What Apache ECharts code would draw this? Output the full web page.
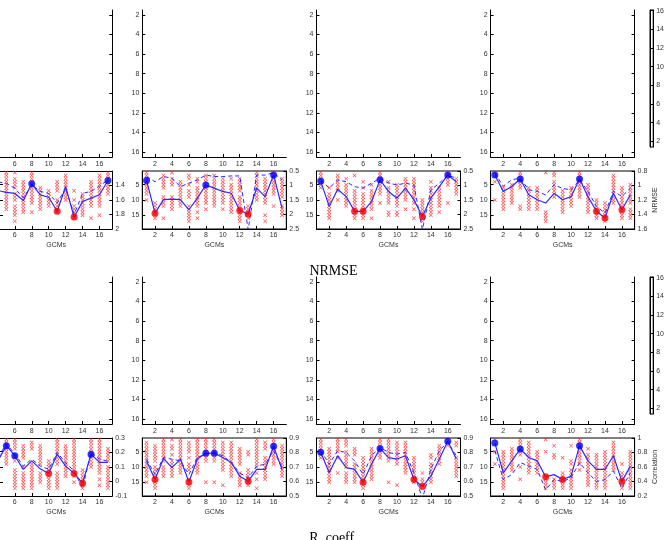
<!DOCTYPE html>
<html>
<head>
<meta charset="utf-8">
<script src="https://cdn.jsdelivr.net/npm/echarts@6/dist/echarts.min.js"></script>
<style>
  html, body { margin: 0; padding: 0; background: #fff; }
  #main { width: 667px; height: 540px; }
</style>
</head>
<body>
<div id="main"></div>
<script>
// tick labels
const gridTicks = [2, 4, 6, 8, 10, 12, 14, 16];
const rankTicks = [5, 10, 15];

// ---------- NRMSE row ----------
const nrmseRightTicks = [[1.4, 1.6, 1.8, 2], [0.5, 1, 1.5, 2, 2.5], [0.5, 1, 1.5, 2, 2.5], [0.8, 1, 1.2, 1.4, 1.6]];
const nrmseRange = [[1.2, 2], [0.5, 2.5], [0.5, 2.5], [0.8, 1.6]];
// mean rank per GCM (solid line, left axis)
const nrmseRank1 = [6, 8, 7, 6.9, 7.5, 7.8, 10.2, 4.7, 8.3, 9.1, 13.7, 5.6, 15.6, 10.5, 9.4, 8.3, 3.6];
const nrmseRank2 = [3.6, 14.3, 9.9, 9.7, 9.9, 13.2, 9.4, 5.1, 6.1, 7.2, 7.8, 13.4, 14.6, 6.1, 8.9, 1.8, 12.7];
const nrmseRank3 = [3.8, 12.1, 6.5, 8.9, 13.7, 13.7, 10.5, 3.4, 7.2, 9.4, 6.1, 9.9, 15.4, 9.4, 5.6, 1.8, 4.0];
const nrmseRank4 = [1.8, 7.2, 5.6, 3.1, 8.3, 9.9, 11.0, 7.8, 9.9, 8.9, 3.1, 8.9, 13.7, 15.9, 7.8, 13.2, 8.3];
// NRMSE value per GCM (dashed line, right axis)
const nrmseValue1 = [1.36, 1.42, 1.40, 1.35, 1.37, 1.44, 1.57, 1.39, 1.48, 1.51, 1.64, 1.44, 1.80, 1.51, 1.48, 1.41, 1.32];
const nrmseValue2 = [0.69, 0.87, 0.69, 0.75, 1.04, 0.92, 0.81, 0.64, 0.69, 0.69, 0.67, 0.67, 2.52, 0.64, 0.64, 0.56, 0.81];
const nrmseValue3 = [0.81, 1.09, 0.81, 0.87, 1.04, 1.09, 0.92, 0.75, 0.92, 0.98, 0.92, 0.98, 2.52, 1.15, 0.92, 0.64, 0.75];
const nrmseValue4 = [0.83, 1.01, 0.92, 0.90, 1.06, 1.08, 1.13, 0.99, 1.04, 1.06, 0.92, 1.08, 1.29, 1.38, 1.08, 1.15, 1.04];
// individual ranks per GCM (red crosses)
const nrmseCross1 = [[], [], [], [2, 4, 6, 8, 10, 12], [1, 2, 3, 4, 5, 6, 7, 8, 9, 10, 11, 12, 13],
  [1, 3, 4, 5, 6, 8, 9, 10, 12, 13, 14, 15, 17], [4, 5, 6, 7, 8, 9, 10, 11, 12, 13, 14], [1, 2, 3, 4, 5, 6, 7, 8, 9, 10, 11, 14],
  [6, 7, 8, 9, 10, 11, 12, 13], [7, 8, 9, 10, 11, 12], [4, 5, 6, 7, 10, 11, 12, 13, 14], [2, 3, 4, 5, 6, 7, 8, 9, 10],
  [7, 10, 12, 13, 14, 15, 16], [8, 9, 10, 11, 12, 13, 14, 15], [4, 5, 6, 7, 8, 9, 10, 11, 12, 16],
  [2, 3, 4, 5, 6, 7, 8, 9, 10, 11, 12, 15], [1, 2, 3, 4, 5, 6, 7, 8]];
const nrmseCross2 = [[1, 2, 3, 4, 5, 6, 7, 8, 10], [11, 12, 13, 14, 15, 16], [2, 3, 4, 5, 6, 9, 10, 11, 12, 16],
  [1, 3, 4, 5, 9, 10, 11, 12, 13], [4, 5, 6, 7, 8, 9, 10, 11, 12], [2, 3, 5, 7, 8, 9, 12, 13, 14, 15, 16, 17],
  [3, 4, 6, 7, 8, 9, 10, 11, 12, 14, 16], [2, 3, 4, 5, 6, 7, 8, 9, 10, 11, 13], [2, 3, 4, 5, 6, 7, 8, 9, 10, 11, 12],
  [3, 4, 5, 6, 7, 8, 9, 10, 11, 13], [3, 5, 6, 7, 8, 9, 10, 11, 12, 13, 14], [3, 4, 5, 6, 7, 9, 10, 11, 12, 13, 14, 15, 16, 17],
  [12, 13, 14, 15, 16], [1, 2, 3, 4, 5, 6, 7, 8, 9, 10], [3, 4, 5, 6, 7, 8, 9, 10, 11, 15, 17],
  [1, 2, 3, 4, 5, 6, 7, 8, 12], [3, 4, 5, 6, 7, 8, 9, 12, 13, 14, 15]];
const nrmseCross3 = [[1, 2, 3, 4, 5, 6], [6, 8, 9, 10, 11, 12, 13, 14, 15, 16], [2, 3, 4, 5, 6, 7, 10],
  [3, 5, 6, 7, 8, 9, 10, 11, 12], [2, 7, 8, 9, 10, 11, 12, 13, 14, 15, 16], [4, 6, 8, 9, 10, 11, 12, 13, 14, 15, 16],
  [5, 7, 8, 9, 10, 11, 12, 13, 16], [1, 2, 3, 4, 5, 6, 7, 8, 11], [4, 6, 7, 8, 9, 10, 11, 14, 15],
  [5, 6, 7, 8, 9, 10, 11, 12, 14, 15], [3, 4, 5, 6, 7, 8, 9, 10, 13], [3, 4, 5, 6, 7, 8, 9, 10, 11, 13, 16],
  [10, 11, 12, 13, 14, 15, 16, 17], [4, 6, 7, 8, 9, 10, 11, 12, 13, 14, 15], [6, 7, 8, 9, 10, 11, 12, 14],
  [1, 2, 3, 4, 5, 11], [3, 4, 5, 6, 7, 8]];
const nrmseCross4 = [[1, 4, 10], [6, 7, 8, 9, 10, 11, 12, 13], [5, 6, 7, 8, 9, 10, 11], [1, 2, 3, 4, 5, 6, 12, 13],
  [6, 7, 8, 9, 10, 11, 12, 13], [6, 7, 8, 9, 10, 11, 12, 13], [1, 14, 15, 16, 17], [1, 2, 4, 5, 6, 7, 8, 9],
  [7, 8, 9, 10, 11, 12, 13, 14], [6, 7, 8, 9, 10, 11, 12], [1, 2, 3, 4, 5, 6, 7, 8, 9], [5, 6, 7, 8, 9, 10, 11, 12, 13, 14],
  [10, 11, 12, 13, 14, 15, 16], [11, 12, 13, 14, 15, 16, 17], [2, 3, 4, 5, 6, 7, 8, 9, 10, 11],
  [6, 7, 8, 9, 10, 11, 12, 13, 14, 15, 16], [5, 6, 7, 8, 9, 10, 11, 13, 14, 15, 16]];
const nrmseBest = [[8, 17], [1, 8, 16], [1, 8, 16], [1, 4, 11]];
const nrmseWorst = [[11, 13], [2, 12, 13], [5, 6, 13], [13, 14, 16]];

// ---------- Correlation row ----------
const corrRightTicks = [[-0.1, 0, 0.1, 0.2, 0.3], [0.5, 0.6, 0.7, 0.8, 0.9], [0.5, 0.6, 0.7, 0.8, 0.9], [0.2, 0.4, 0.6, 0.8, 1]];
const corrRange = [[-0.1, 0.3], [0.5, 0.9], [0.5, 0.9], [0.2, 1]];
const corrRank1 = [8, 10, 9, 8.0, 3.0, 6.3, 10.8, 8.0, 10.6, 12.1, 5.8, 9.7, 12.1, 15.3, 5.8, 8.5, 8.5];
const corrRank2 = [8.0, 14.1, 7.2, 10.2, 7.4, 14.9, 7.4, 5.5, 5.5, 6.9, 8.5, 13.0, 14.7, 10.8, 10.8, 3.2, 10.8];
const corrRank3 = [5.2, 11.9, 6.3, 10.2, 10.8, 15.0, 9.1, 3.9, 6.9, 7.4, 6.3, 14.1, 16.4, 13.0, 7.4, 1.6, 7.4];
const corrRank4 = [2.1, 11.9, 8.0, 4.1, 6.9, 8.0, 13.2, 12.5, 14.1, 13.0, 3.0, 8.0, 10.8, 10.8, 6.3, 14.7, 9.7];
const corrValue1 = [0.15, 0.12, 0.14, 0.166, 0.26, 0.19, 0.107, 0.154, 0.107, 0.084, 0.20, 0.13, 0.072, -0.046, 0.20, 0.154, 0.14];
const corrValue2 = [0.754, 0.648, 0.766, 0.754, 0.742, 0.648, 0.766, 0.789, 0.80, 0.778, 0.73, 0.66, 0.625, 0.707, 0.719, 0.813, 0.695];
const corrValue3 = [0.813, 0.719, 0.813, 0.80, 0.742, 0.648, 0.778, 0.836, 0.80, 0.789, 0.80, 0.66, 0.483, 0.684, 0.813, 0.872, 0.778];
const corrValue4 = [0.826, 0.426, 0.496, 0.661, 0.614, 0.567, 0.285, 0.426, 0.40, 0.45, 0.661, 0.52, 0.40, 0.426, 0.544, 0.308, 0.52];
const corrCross1 = [[], [], [], [3, 6, 9, 12], [1, 2, 3, 4, 5, 6, 7, 8, 9],
  [1, 2, 3, 4, 7, 8, 11, 12, 13, 14, 15, 16, 17], [3, 4, 5, 6, 7, 10, 12, 13, 14, 15, 16, 17],
  [2, 3, 4, 9, 10, 11, 12, 13, 14, 15, 16, 17], [3, 4, 5, 6, 7, 8, 9, 12, 13, 14, 15], [8, 9, 10, 11, 12, 13, 14, 15, 16, 17],
  [1, 2, 3, 4, 5, 6, 7, 8, 9, 12, 13, 14, 15, 16, 17], [3, 4, 5, 6, 7, 8, 9, 10, 11, 12, 13],
  [1, 2, 3, 4, 5, 6, 7, 8, 9, 10, 11, 12, 13, 15], [11, 12, 13, 14, 15, 16, 17], [1, 2, 3, 4, 5, 6, 7, 8, 9, 10],
  [1, 2, 3, 4, 5, 6, 7, 8, 9, 10, 11, 12, 14, 16], [4, 5, 6, 7, 8, 10, 11, 12, 13, 14, 15, 16, 17]];
const corrCross2 = [[2, 3, 4, 5, 6, 7, 8, 9, 10, 11, 12, 13, 15], [3, 4, 5, 6, 7, 8, 10, 11, 12, 13, 14, 15, 16, 17],
  [1, 2, 3, 4, 5, 6, 7, 8, 10, 11, 12, 13], [1, 3, 4, 6, 8, 9, 10, 11, 12, 13], [1, 2, 3, 4, 5, 6, 7, 8, 9, 10, 11, 12],
  [2, 3, 4, 5, 7, 9, 10, 11, 14, 15, 16, 17], [1, 2, 3, 4, 5, 6, 7, 8, 9, 10, 11, 12], [1, 2, 3, 4, 5, 6, 7, 8, 15],
  [1, 2, 3, 4, 5, 6, 7, 8, 15], [2, 3, 4, 5, 6, 7, 8, 9, 10, 11, 16], [2, 3, 4, 5, 6, 7, 8, 9, 10, 11, 12, 13],
  [4, 5, 6, 7, 8, 9, 12, 13, 14, 15, 16], [5, 6, 11, 12, 13, 14, 15, 16], [1, 2, 3, 4, 5, 6, 7, 8, 9, 10, 12, 14, 17],
  [2, 3, 4, 7, 8, 9, 10, 11, 12, 13, 14], [1, 2, 3, 4, 5, 6, 7, 8, 9], [3, 4, 5, 6, 7, 8, 9, 10, 11, 12, 13]];
const corrCross3 = [[1, 2, 3, 4, 5, 6, 7], [4, 5, 6, 7, 8, 9, 10, 11, 12, 13, 14, 15], [1, 2, 3, 4, 5, 7, 12],
  [1, 2, 3, 5, 6, 7, 8, 9, 10, 12, 13, 14, 15], [4, 5, 6, 9, 10, 11, 12, 13, 14, 15], [7, 8, 9, 10, 11, 12, 13, 14, 15, 16, 17],
  [4, 5, 6, 7, 8, 9, 10, 11, 12, 13, 14], [1, 2, 3, 4, 5, 6, 7], [1, 2, 3, 4, 5, 6, 7, 8, 15], [2, 3, 4, 5, 6, 7, 8, 9, 16],
  [2, 3, 4, 5, 6, 7, 8, 9, 10, 11, 12], [7, 8, 9, 10, 11, 12, 13, 14, 15], [12, 14, 15, 16],
  [6, 7, 9, 10, 11, 12, 13, 14, 15], [3, 4, 5, 6, 7, 8, 9], [1, 2, 3], [2, 3, 7, 8, 9, 10, 11, 12, 13]];
const corrCross4 = [[1, 5, 9], [5, 6, 7, 8, 9, 10, 11, 12, 13, 14, 15, 16, 17], [4, 5, 6, 7, 8, 9, 10, 11],
  [1, 2, 3, 4, 5, 6, 10, 14], [2, 3, 4, 5, 6, 7, 8, 9, 10, 11, 12], [5, 6, 7, 8, 9, 10, 11, 12], [1, 5, 13, 14, 15, 16, 17],
  [3, 6, 7, 14, 15, 16, 17], [7, 12, 13, 14, 15, 16, 17], [3, 8, 9, 11, 12, 13, 14, 15, 16, 17],
  [1, 2, 3, 4, 5, 6, 7, 8, 9, 11], [4, 6, 7, 8, 9, 10, 11, 12, 13, 14, 15, 16], [6, 7, 8, 9, 10, 11, 12, 13, 14, 15, 16, 17],
  [5, 6, 7, 8, 9, 10, 11, 12, 13, 14, 15, 16, 17], [2, 3, 4, 5, 6, 7, 8, 9, 10, 11], [9, 12, 13, 14, 15, 16, 17],
  [5, 6, 7, 8, 9, 10, 11, 12, 13, 14, 15, 16, 17]];
const corrBest = [[5, 6, 15], [8, 9, 16], [1, 8, 16], [1, 4, 11]];
const corrWorst = [[10, 13, 14], [2, 6, 13], [6, 12, 13], [7, 9, 16]];

const rows = [
  { title: 'NRMSE', titleTop: 259, bigTop: 10, smallTop: 171, cbTop: 10, inv: true, label: 'NRMSE',
    ticks: nrmseRightTicks, range: nrmseRange,
    rank: [nrmseRank1, nrmseRank2, nrmseRank3, nrmseRank4],
    value: [nrmseValue1, nrmseValue2, nrmseValue3, nrmseValue4],
    cross: [nrmseCross1, nrmseCross2, nrmseCross3, nrmseCross4],
    best: nrmseBest, worst: nrmseWorst },
  { title: 'R_coeff.', titleTop: 526, bigTop: 277, smallTop: 438, cbTop: 277, inv: false, label: 'Correlation',
    ticks: corrRightTicks, range: corrRange,
    rank: [corrRank1, corrRank2, corrRank3, corrRank4],
    value: [corrValue1, corrValue2, corrValue3, corrValue4],
    cross: [corrCross1, corrCross2, corrCross3, corrCross4],
    best: corrBest, worst: corrWorst }
];

// first column is cut by the left page edge: it starts at x = 0 and shows GCMs from ~4.25
const colLeft = [0, 142.3, 316.5, 490.6];
const colWidth = [112.2, 144, 144, 144];
const colMin = [4.25, 0.5, 0.5, 0.5];
const crossSymbol = 'path://M0,1.2L1.2,0L5,3.8L8.8,0L10,1.2L6.2,5L10,8.8L8.8,10L5,6.2L1.2,10L0,8.8L3.8,5Z';
const tickFont = { fontFamily: 'Liberation Sans, Arial, sans-serif', fontSize: 7, color: '#333' };

const grids = [], xAxes = [], yAxes = [], series = [];

function makeAxis(g, min, max, ticks, o) {
  return {
    gridIndex: g, type: 'value', min: min, max: max, position: o.pos, inverse: !!o.inv,
    show: o.show !== false,
    splitLine: { show: false },
    axisLine: { show: o.line !== false, onZero: false, lineStyle: { color: '#000', width: 1 } },
    axisTick: { show: o.ticks !== false, inside: true, length: 3, customValues: ticks, lineStyle: { color: '#000', width: 1 } },
    axisLabel: Object.assign({ show: o.labels !== false, customValues: ticks, margin: o.margin || 3 }, tickFont),
    name: o.name || '', nameLocation: 'middle', nameGap: o.nameGap || 12, nameRotate: o.nameRotate,
    nameTextStyle: Object.assign({}, tickFont)
  };
}

rows.forEach(function (row) {
  for (let c = 0; c < 4; c++) {
    // big (empty) panel
    let g = grids.length;
    grids.push({ left: colLeft[c], top: row.bigTop, width: colWidth[c], height: 147, show: false });
    xAxes.push(makeAxis(g, colMin[c], 17.5, gridTicks, { pos: 'bottom', margin: 4 }));
    let xi = xAxes.length - 1;
    if (c === 0) {
      yAxes.push(makeAxis(g, 1.5, 16.5, gridTicks, { pos: 'right', inv: true, labels: false }));
    } else {
      yAxes.push(makeAxis(g, 1.5, 16.5, gridTicks, { pos: 'left', inv: true }));
    }
    let yi = yAxes.length - 1;
    if (c === 3) {
      yAxes.push(makeAxis(g, 1.5, 16.5, gridTicks, { pos: 'right', inv: true, labels: false }));
    }
    series.push({ type: 'scatter', xAxisIndex: xi, yAxisIndex: yi, data: [] });

    // small ranking panel
    g = grids.length;
    grids.push({ left: colLeft[c], top: row.smallTop, width: colWidth[c], height: 58, show: c > 0,
      borderColor: '#000', borderWidth: 1 });
    xAxes.push(makeAxis(g, colMin[c], 17.5, gridTicks, { pos: 'bottom', name: 'GCMs', nameGap: 13 }));
    xi = xAxes.length - 1;
    if (c === 0) {
      // top edge of the cut panel
      xAxes.push(makeAxis(g, colMin[c], 17.5, gridTicks, { pos: 'top', labels: false, ticks: false }));
    }
    yAxes.push(makeAxis(g, 0.5, 19.5, rankTicks, { pos: 'left', inv: true, labels: c > 0, line: c > 0 }));
    const yl = yAxes.length - 1;
    yAxes.push(makeAxis(g, row.range[c][0], row.range[c][1], row.ticks[c],
      { pos: 'right', inv: row.inv, name: c === 3 ? row.label : '', nameRotate: 90, nameGap: 17 }));
    const yr = yAxes.length - 1;

    const pts = [];
    row.cross[c].forEach(function (ranks, i) {
      ranks.forEach(function (r) { pts.push([i + 1, r]); });
    });
    series.push({ type: 'scatter', xAxisIndex: xi, yAxisIndex: yl, data: pts, symbol: crossSymbol,
      symbolSize: 4, itemStyle: { color: '#f22' }, silent: true, z: 2 });
    series.push({ type: 'line', xAxisIndex: xi, yAxisIndex: yr, data: row.value[c].map(function (v, i) { return [i + 1, v]; }),
      showSymbol: false, lineStyle: { color: '#2a2aff', width: 1, type: [4, 3] }, z: 3 });
    series.push({ type: 'line', xAxisIndex: xi, yAxisIndex: yl, data: row.rank[c].map(function (v, i) { return [i + 1, v]; }),
      showSymbol: false, lineStyle: { color: '#2a2aff', width: 1.2 }, z: 4 });
    series.push({ type: 'scatter', xAxisIndex: xi, yAxisIndex: yl, data: row.best[c].map(function (k) { return [k, row.rank[c][k - 1]]; }),
      symbol: 'circle', symbolSize: 7, itemStyle: { color: '#0000ff' }, z: 5 });
    series.push({ type: 'scatter', xAxisIndex: xi, yAxisIndex: yl, data: row.worst[c].map(function (k) { return [k, row.rank[c][k - 1]]; }),
      symbol: 'circle', symbolSize: 7, itemStyle: { color: '#ff0000' }, z: 5 });
  }

  // colour bar
  const g = grids.length;
  grids.push({ left: 650, top: row.cbTop, width: 7, height: 137, show: true, borderColor: '#000', borderWidth: 1 });
  xAxes.push(makeAxis(g, 0, 1, [], { pos: 'bottom', show: false }));
  const xi = xAxes.length - 1;
  yAxes.push(makeAxis(g, 1.4, 16.07, gridTicks, { pos: 'right', labels: true, line: true }));
  const yi = yAxes.length - 1;
  yAxes.push(makeAxis(g, 1.4, 16.07, gridTicks, { pos: 'left', labels: false, line: true }));
  series.push({ type: 'scatter', xAxisIndex: xi, yAxisIndex: yi, data: [] });
});

const option = {
  animation: false,
  backgroundColor: '#fff',
  title: rows.map(function (row) {
    return { text: row.title, left: 'center', top: row.titleTop,
      textStyle: { fontFamily: 'Liberation Serif, DejaVu Serif, serif', fontSize: 14, fontWeight: 'normal', color: '#000' } };
  }),
  grid: grids,
  xAxis: xAxes,
  yAxis: yAxes,
  series: series
};

const chart = echarts.init(document.getElementById('main'));
chart.setOption(option);
</script>
</body>
</html>
